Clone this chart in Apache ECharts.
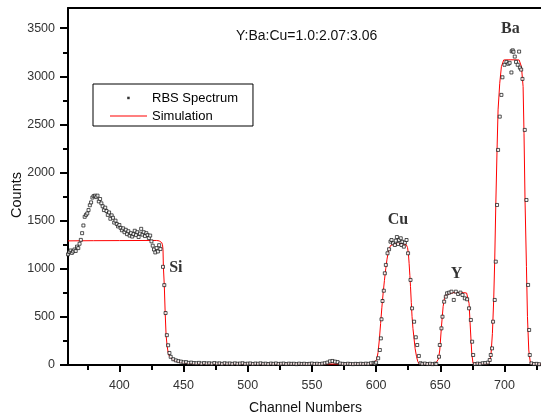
<!DOCTYPE html>
<html>
<head>
<meta charset="utf-8">
<script src="https://cdn.jsdelivr.net/npm/echarts@6/dist/echarts.min.js"></script>
<style>
  html, body { margin: 0; padding: 0; background: #fff; }
  #chart { width: 541px; height: 420px; }
</style>
</head>
<body>
<div id="chart"></div>
<script>
// RBS spectrum of a Y-Ba-Cu-O film on Si: measured counts per channel
const rbsChannel = [
  360,361,362,363,364,365,366,367,368,369,370,371,372,373,374,375,376,377,378,379,
  380,381,382,383,384,385,386,387,388,389,390,391,392,393,394,395,396,397,398,399,
  400,401,402,403,404,405,406,407,408,409,410,411,412,413,414,415,416,417,418,419,
  420,421,422,423,424,425,426,427,428,429,430,431,432,434,435,436,437,438,439,440,
  442,444,446,448,450,452,454,456,458,460,462,464,466,468,470,472,474,476,478,480,
  482,484,486,488,490,492,494,496,498,500,502,504,506,508,510,512,514,516,518,520,
  522,524,526,528,530,532,534,536,538,540,542,544,546,548,550,552,554,556,558,560,
  562,564,566,568,570,572,574,576,578,580,582,584,586,588,590,592,594,596,598,
  599,600,601.6,602.9,603.7,604.2,605,606,606.8,607.6,608.9,610.1,611.2,612,613.2,614.6,
  615.3,616.2,617.1,617.9,619.2,619.8,620.5,621.6,622.4,623.7,624.9,626.8,628,629.6,630.9,
  632,633.3,634.6,636,638,640,642,644,646,
  646.9,649,649.6,650.9,651.7,653,654.3,655.3,656.9,658.7,660.5,662.1,663.9,665.7,667.3,
  669.1,670.9,672.4,673.8,674.8,675.6,676.9,679,681,683,685,687,
  688.5,689.3,690.3,691.1,692.4,693.2,694.2,695,696.3,697.6,698.4,700,701.5,703,704,
  705.4,705.6,706.4,707,708,709,710.3,711.4,712,713,714,715.8,717.1,718.4,719.2,
  719.7,721,723,725,727
];
const rbsCounts = [
  1150,1175,1190,1165,1180,1200,1185,1230,1215,1260,1300,1370,1450,1540,1560,1575,1610,1660,1690,1740,
  1755,1760,1745,1760,1700,1725,1680,1650,1610,1635,1600,1560,1585,1520,1555,1530,1480,1500,1465,1440,
  1455,1425,1400,1420,1380,1405,1360,1390,1345,1370,1335,1360,1395,1350,1380,1330,1365,1415,1355,1380,
  1340,1370,1350,1320,1345,1285,1240,1200,1170,1215,1180,1245,1205,1020,830,540,310,205,125,85,
  60,48,40,35,28,30,22,25,20,18,22,15,20,16,18,14,20,15,17,12,
  18,14,16,12,17,13,15,18,12,14,16,11,15,13,17,12,14,10,15,12,
  16,11,13,15,10,14,12,13,9,14,11,13,10,12,15,11,13,10,14,18,
  25,38,42,35,30,15,12,10,13,11,9,12,10,13,11,14,12,18,22,
  15,25,70,156,277,475,665,772,953,1040,1161,1203,1282,1299,1265,1247,
  1292,1330,1258,1299,1317,1247,1280,1230,1271,1299,1161,884,589,450,288,
  208,94,18,12,15,10,13,9,14,
  10,86,208,381,502,658,710,745,752,762,676,762,738,752,728,
  693,683,589,468,242,104,10,14,12,18,20,25,
  52,104,173,450,676,1074,1663,2235,2581,2807,2990,3120,3150,3130,3140,
  3040,3260,3270,3255,3205,3150,3120,3257,3090,3070,2973,2443,1715,832,364,
  104,17,10,12,8
];

// Simulated spectrum for Y:Ba:Cu = 1.0:2.07:3.06
const simChannel = [
  360,380,400,420,429,431,432,433,433.6,434,434.3,435,435.7,436.4,437.2,438,439,440,442,446,
  452,460,500,560,598,599.5,600.5,601.5,602.5,603.5,604.5,605.5,606.5,607.5,608.5,609.5,610.5,611.5,613,617,
  621,623.5,624.5,625.2,625.7,626.3,626.8,627.4,628,628.7,629.4,630.4,631.5,632.5,633.5,635,646,647.5,648.5,649.6,
  650.9,652.2,653.2,654.3,655.5,660,668,670.5,671.6,672.4,673.5,674.5,675.5,677,687,688.5,689.5,690.6,691.6,692.4,
  693.2,694.2,695,696.3,697.6,699.4,705,711.4,713.2,714.5,715.2,716,717.1,717.9,718.9,720.2,722,730
];
const simCounts = [
  1290,1292,1293,1294,1294,1290,1284,1272,1250,1200,1020,830,540,310,200,130,90,70,50,32,
  18,12,10,10,10,20,60,130,260,430,600,750,880,1000,1100,1175,1220,1245,1258,1262,
  1260,1250,1220,1150,1057,930,814,650,502,380,294,170,86,35,12,8,8,20,60,156,
  398,606,690,728,748,752,752,748,735,641,364,121,17,10,12,40,110,329,676,1091,
  1645,2235,2651,2928,3101,3170,3172,3170,3101,2893,2408,1715,1022,502,156,17,10,10
];

// Axis ticks and labels
const xMajorTicks = [400, 450, 500, 550, 600, 650, 700];
const xMinorTicks = [375, 425, 475, 525, 575, 625, 675, 725];
const yMajorTicks = [0, 500, 1000, 1500, 2000, 2500, 3000, 3500];
const yMinorTicks = [250, 750, 1250, 1750, 2250, 2750, 3250];

// Element edges marked on the spectrum
const elementNames = ['Si', 'Cu', 'Y', 'Ba'];
const elementChannel = [444, 617, 662.6, 704.6];
const elementCounts = [1011, 1507, 946, 3493];

const ratioText = 'Y:Ba:Cu=1.0:2.07:3.06';

const X_MIN = 360, X_MAX = 730, Y_MIN = 0, Y_MAX = 3710;
const sans = "'Liberation Sans', Arial, Helvetica, sans-serif";
const serif = "'Liberation Serif', 'Times New Roman', serif";
const RED = '#ff0000';

const rbsData = rbsChannel.map((c, i) => [c, rbsCounts[i]]);
const simData = simChannel.map((c, i) => [c, simCounts[i]]);
const elementData = elementNames.map((n, i) => ({ name: n, value: [elementChannel[i], elementCounts[i]] }));

const axisBlack = { color: '#000', width: 2 };
const plainNumber = v => String(v);

const chart = echarts.init(document.getElementById('chart'), null, { renderer: 'canvas' });
chart.setOption({
  animation: false,
  backgroundColor: '#fff',
  title: {
    text: ratioText,
    left: 236, top: 29, padding: 0,
    textStyle: { fontFamily: sans, fontSize: 14, fontWeight: 'normal', color: '#111' }
  },
  legend: {
    orient: 'vertical',
    left: 93, top: 84,
    padding: [7, 15, 3, 17],
    itemWidth: 37, itemHeight: 14, itemGap: 4,
    borderColor: '#000', borderWidth: 1,
    symbolKeepAspect: false,
    textStyle: { fontFamily: sans, fontSize: 13, color: '#000' },
    data: [
      // icon boxes keep the 37:14 item proportions so the marks are not stretched
      { name: 'RBS Spectrum', icon: 'path://M0,0M370,140M172,57h25v25h-25z', itemStyle: { color: '#000', borderWidth: 0 } },
      { name: 'Simulation', icon: 'path://M0,0M370,140M0,65h370v10h-370z', itemStyle: { color: RED, borderWidth: 0 } }
    ]
  },
  grid: { left: 68, top: 8, width: 475, height: 357, outerBoundsMode: 'none', containLabel: false },
  xAxis: [
    {
      type: 'value', min: X_MIN, max: X_MAX, position: 'bottom',
      axisLine: { onZero: false, lineStyle: axisBlack },
      axisTick: { customValues: xMajorTicks, length: 7, lineStyle: axisBlack },
      axisLabel: { customValues: xMajorTicks, formatter: plainNumber, margin: 14, fontFamily: sans, fontSize: 12.5, color: '#333' },
      splitLine: { show: false },
      name: 'Channel Numbers', nameLocation: 'middle', nameGap: 36, nameMoveOverlap: false,
      nameTextStyle: { fontFamily: sans, fontSize: 14, color: '#111' }
    },
    {
      type: 'value', min: X_MIN, max: X_MAX, position: 'bottom',
      axisLine: { show: false, onZero: false },
      axisTick: { customValues: xMinorTicks, length: 5, lineStyle: axisBlack },
      axisLabel: { show: false },
      splitLine: { show: false }
    },
    {
      type: 'value', min: X_MIN, max: X_MAX, position: 'top',
      axisLine: { onZero: false, lineStyle: axisBlack },
      axisTick: { show: false }, axisLabel: { show: false }, splitLine: { show: false }
    }
  ],
  yAxis: [
    {
      type: 'value', min: Y_MIN, max: Y_MAX, position: 'left',
      axisLine: { show: true, onZero: false, lineStyle: axisBlack },
      axisTick: { show: true, customValues: yMajorTicks, length: 8, lineStyle: axisBlack },
      axisLabel: { customValues: yMajorTicks, formatter: plainNumber, margin: 13, fontFamily: sans, fontSize: 12.5, color: '#333' },
      splitLine: { show: false },
      name: 'Counts', nameLocation: 'middle', nameGap: 44, nameRotate: 90, nameMoveOverlap: false,
      nameTextStyle: { fontFamily: sans, fontSize: 14.5, color: '#111', padding: [0, 17, 0, 0] }
    },
    {
      type: 'value', min: Y_MIN, max: Y_MAX, position: 'left',
      axisLine: { show: false, onZero: false },
      axisTick: { show: true, customValues: yMinorTicks, length: 5, lineStyle: axisBlack },
      axisLabel: { show: false },
      splitLine: { show: false }
    }
  ],
  series: [
    {
      name: 'Simulation', type: 'line', xAxisIndex: 0, yAxisIndex: 0,
      data: simData, symbol: 'none', smooth: false, color: RED,
      lineStyle: { color: RED, width: 1 },
      itemStyle: { color: RED },
      z: 2
    },
    {
      name: 'RBS Spectrum', type: 'scatter', xAxisIndex: 0, yAxisIndex: 0,
      data: rbsData, symbol: 'rect', symbolSize: 3,
      itemStyle: { color: '#fff', borderColor: '#111', borderWidth: 0.9 },
      z: 3
    },
    {
      name: 'elements', type: 'scatter', xAxisIndex: 0, yAxisIndex: 0,
      data: elementData, symbolSize: 0, silent: true,
      label: {
        show: true, position: 'inside', formatter: '{b}',
        fontFamily: serif, fontWeight: 'bold', fontSize: 16, color: '#000'
      },
      z: 4
    }
  ]
});
</script>
</body>
</html>
